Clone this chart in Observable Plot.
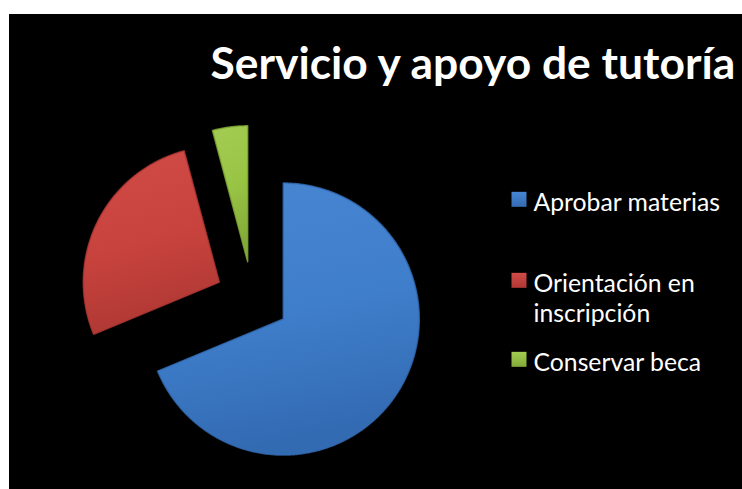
<!DOCTYPE html>
<html><head><meta charset="utf-8">
<script src="https://cdn.jsdelivr.net/npm/d3@7"></script>
<script src="https://cdn.jsdelivr.net/npm/@observablehq/plot@0.6"></script>
<style>
html,body{margin:0;padding:0;background:#fff;}
#chart{position:absolute;left:9px;top:14px;width:733px;height:475px;background:#000;overflow:hidden;}
</style></head><body><div id="chart"></div>
<script>
// ---- data ----
const title = "Servicio y apoyo de tutoría";
const categories = ["Aprobar materias", "Orientación en inscripción", "Conservar beca"];
const values = [33, 13, 2];
const colors = ["#3f7ecb", "#c9433e", "#98c444"];
const lightColors = ["#4886d2", "#d04c47", "#a3cd52"];
const darkColors = ["#336bb3", "#b03834", "#83aa38"];

// ---- layout ----
const W = 733, H = 475;
const R = 136, cx = 243, cy = 284, explode = 0.272;
const FONT = "Lato, 'Open Sans', sans-serif";

function measure(text, font) {
  const c = document.createElement("canvas").getContext("2d");
  c.font = font;
  return c.measureText(text).width;
}
const titleSize = 100 * 527 / measure(title, "bold 100px Lato");
const legendSize = 100 * 187 / measure(categories[0], "100px Lato");

function wrap(text, maxW) {
  const words = text.split(" "), lines = [];
  let cur = "";
  for (const w of words) {
    const t = cur ? cur + " " + w : w;
    if (cur && measure(t, legendSize + "px Lato") > maxW) { lines.push(cur); cur = w; }
    else cur = t;
  }
  lines.push(cur);
  return lines.join("\n");
}

// pie polygons
const arcs = d3.pie().sort(null).startAngle(0).endAngle(2 * Math.PI)(values);
const slices = arcs.map((a, i) => {
  const mid = (a.startAngle + a.endAngle) / 2;
  const ox = explode * Math.sin(mid), oy = -explode * Math.cos(mid);
  const pts = [{i, x: ox, y: oy}];
  const n = Math.ceil((a.endAngle - a.startAngle) / 0.01) + 1;
  for (let k = 0; k <= n; k++) {
    const t = a.startAngle + (a.endAngle - a.startAngle) * k / n;
    pts.push({i, x: ox + Math.sin(t), y: oy - Math.cos(t)});
  }
  pts.push({i, x: ox, y: oy});
  return pts;
});

const defs = () => {
  const g = d3.create("svg:defs");
  colors.forEach((c, i) => {
    const lg = g.append("linearGradient").attr("id", "grad" + i)
      .attr("x1", 0).attr("y1", 0).attr("x2", 0.2).attr("y2", 1);
    lg.append("stop").attr("offset", "0%").attr("stop-color", lightColors[i]);
    lg.append("stop").attr("offset", "55%").attr("stop-color", c);
    lg.append("stop").attr("offset", "100%").attr("stop-color", darkColors[i]);
    const sq = g.append("linearGradient").attr("id", "sq" + i)
      .attr("x1", 0).attr("y1", 0).attr("x2", 0).attr("y2", 1);
    sq.append("stop").attr("offset", "0%").attr("stop-color", lightColors[i]);
    sq.append("stop").attr("offset", "100%").attr("stop-color", darkColors[i]);
  });
  return g.node();
};

const legendBaselines = [193, 274, 353];
const legendTextX = 524, legendSquareX = 509.5, squareSide = 15;

const marks = [defs];
slices.forEach((pts, i) => {
  marks.push(Plot.line(pts, {x: "x", y: "y", fill: `url(#grad${i})`, stroke: darkColors[i], strokeWidth: 1.5, strokeOpacity: 0.8, curve: "linear-closed"}));
});
categories.forEach((cat, i) => {
  marks.push(Plot.dot([cat], {frameAnchor: "top-left", dx: legendSquareX, dy: legendBaselines[i] - legendSize * 0.33,
    symbol: "square", r: squareSide / Math.sqrt(Math.PI), fill: `url(#sq${i})`, stroke: "none"}));
  marks.push(Plot.text([wrap(cat, 195)], {frameAnchor: "top-left", dx: legendTextX, dy: legendBaselines[i] - 0.71 * legendSize,
    textAnchor: "start", lineAnchor: "top", lineHeight: 30 / legendSize, fill: "#fff", fontSize: legendSize, fontFamily: FONT}));
});
marks.push(Plot.text([title], {frameAnchor: "top-left", dx: 201, dy: 64, textAnchor: "start", lineAnchor: "bottom",
  fill: "#fff", fontSize: titleSize, fontWeight: "bold", fontFamily: FONT}));

const chart = Plot.plot({
  width: W, height: H, margin: 0,
  style: {background: "#000", color: "#fff", overflow: "visible"},
  x: {domain: [-cx / R, (W - cx) / R], range: [0, W], axis: null},
  y: {domain: [-cy / R, (H - cy) / R], range: [0, H], axis: null},
  marks
});
document.getElementById("chart").appendChild(chart);
</script></body></html>
